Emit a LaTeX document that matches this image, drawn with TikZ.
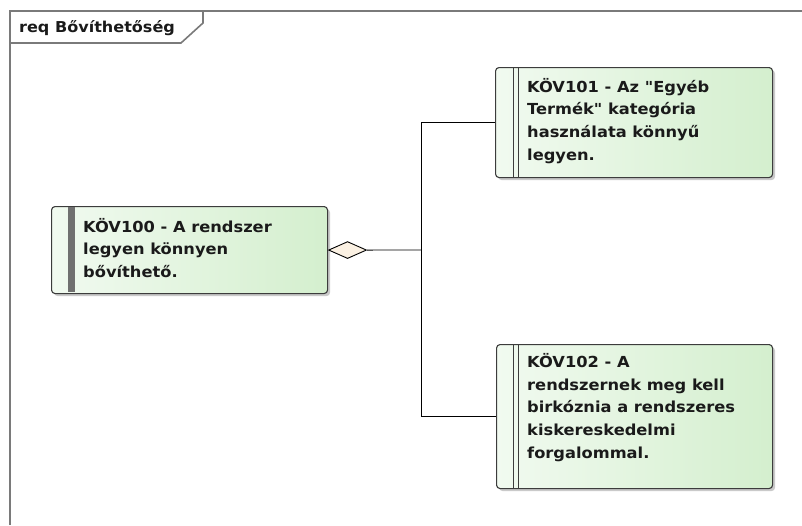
\documentclass[tikz,border=0pt]{standalone}
\usepackage{fontspec}
\setmainfont{DejaVu Sans}[FakeStretch=1.07,Ligatures=TeXOff]
\usetikzlibrary{shapes.geometric,shadows}
\definecolor{framegray}{HTML}{7A7A7A}
\definecolor{boxleft}{HTML}{F1FAF0}
\definecolor{boxright}{HTML}{D4EFCE}
\definecolor{boxline}{HTML}{3C3C3C}
\definecolor{barcol}{HTML}{707070}
\definecolor{diafill}{HTML}{FBF1E3}
\definecolor{txt}{HTML}{1A1A1A}
\tikzset{
  reqbox/.style={draw=boxline, line width=1.1pt, rounded corners=3.5pt,
    left color=boxleft, right color=boxright, inner sep=0pt,
    drop shadow={shadow xshift=2.5pt, shadow yshift=-2.5pt, opacity=0.35, fill=black!60}},
  reqtext/.style={anchor=north west, inner sep=0pt, align=left, text=txt,
    font=\fontsize{15.2}{22.7}\selectfont\bfseries},
  conn/.style={draw=black, line width=0.9pt},
  framecol/.style={draw=framegray, line width=2pt}
}
\begin{document}
\begin{tikzpicture}[x=1pt,y=-1pt]
\useasboundingbox (0,0) rectangle (802,525);
% frame
\draw[framecol] (10,525) -- (10,11) -- (802,11);
\draw[framecol, line width=1.6pt, fill=white] (10,11) -- (203,11) -- (203,23) -- (181,43) -- (10,43) -- cycle;
\node[anchor=west, inner sep=0pt, text=txt, font=\fontsize{15}{17}\selectfont\bfseries] (title) at (19,28) {req Bővíthetőség};

% left requirement
\node[reqbox, minimum width=276pt, minimum height=87pt, anchor=north west] (k100) at (51,206) {};
\fill[barcol] (68,206.6) rectangle (75,292.4);
\node[reqtext] (t100) at (83,218) {KÖV100 - A rendszer\\legyen könnyen\\bővíthető.};

% right requirement 1
\node[reqbox, minimum width=277pt, minimum height=110pt, anchor=north west] (k101) at (495,67) {};
\draw[boxline, line width=1pt] (513,67) -- (513,177) (518,67) -- (518,177);
\node[reqtext] (t101) at (527,78) {KÖV101 - Az "Egyéb\\Termék" kategória\\használata könnyű\\legyen.};

% right requirement 2
\node[reqbox, minimum width=276pt, minimum height=144pt, anchor=north west] (k102) at (496,344) {};
\draw[boxline, line width=1pt] (513,344) -- (513,488) (518,344) -- (518,488);
\node[reqtext] (t102) at (527,353) {KÖV102 - A\\rendszernek meg kell\\birkóznia a rendszeres\\kiskereskedelmi\\forgalommal.};

% aggregation
\node[diamond, draw=black, line width=0.9pt, fill=diafill, inner sep=0pt,
      minimum width=38pt, minimum height=17pt, aspect=2.2, anchor=west] (dia) at (k100.east) {};
\coordinate (junc) at (421,250);
\draw[conn] (dia.east) -- (junc);
\draw[conn] (junc) |- (k101.west);
\draw[conn] (junc) |- (k102.west);
\end{tikzpicture}
\end{document}
